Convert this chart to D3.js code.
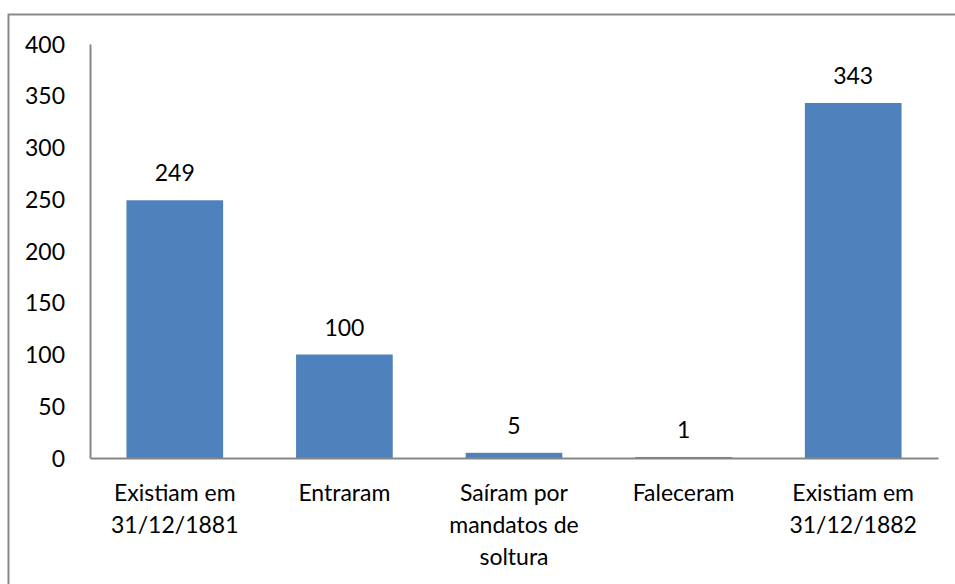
<!DOCTYPE html>
<html>
<head>
  <meta charset="utf-8">
  <style>
    body { margin: 0; background: #fff; }
    text { font-family: Lato, "Open Sans", sans-serif; fill: #000; }
  </style>
  <title>Presos</title>
</head>
<body>
  <script src="https://cdn.jsdelivr.net/npm/d3@7"></script>
  <script>
    // data
    var categories = [
      ["Existiam em", "31/12/1881"],
      ["Entraram"],
      ["Saíram por", "mandatos de", "soltura"],
      ["Faleceram"],
      ["Existiam em", "31/12/1882"]
    ];
    var values = [249, 100, 5, 1, 343];
    var yTicks = [0, 50, 100, 150, 200, 250, 300, 350, 400];

    // dimensions
    var width = 955;
    var height = 584;
    var plotLeft = 90, plotRight = 938, plotTop = 44, plotBottom = 458;
    var fontSize = 23;

    var svg = d3.select("body").append("svg")
      .attr("width", width)
      .attr("height", height);

    // outer chart border
    svg.append("rect")
      .attr("x", 8.5)
      .attr("y", 14.5)
      .attr("width", 960)
      .attr("height", 600)
      .attr("fill", "none")
      .attr("stroke", "#898989")
      .attr("stroke-width", 2);

    var idx = d3.range(values.length);

    var x = d3.scaleBand()
      .domain(idx)
      .range([plotLeft, plotRight])
      .paddingInner(0.43)
      .paddingOuter(0.215);

    var y = d3.scaleLinear()
      .domain([0, 400])
      .range([plotBottom, plotTop]);

    // bars
    svg.selectAll("rect.bar").data(values).enter().append("rect")
      .attr("class", "bar")
      .attr("x", function(d, i) { return x(i); })
      .attr("width", x.bandwidth())
      .attr("y", function(d) { return y(d); })
      .attr("height", function(d) { return y(0) - y(d); })
      .attr("fill", "#4F81BD");

    // value labels
    svg.selectAll("text.val").data(values).enter().append("text")
      .attr("class", "val")
      .attr("text-anchor", "middle")
      .attr("x", function(d, i) { return x(i) + x.bandwidth() / 2; })
      .attr("y", function(d) { return y(d) - 19; })
      .style("font-size", fontSize + "px")
      .text(function(d) { return d; });

    // y axis (line only, labels on the left)
    var yAxis = d3.axisLeft(y).tickValues(yTicks).tickSize(0).tickPadding(25);
    var gy = svg.append("g")
      .attr("transform", "translate(" + plotLeft + ",0)")
      .call(yAxis);
    gy.attr("font-family", null).attr("font-size", null);
    gy.select(".domain").attr("stroke", "#868686").attr("stroke-width", 2);
    gy.selectAll("text")
      .style("font-size", fontSize + "px")
      .attr("dy", "0.35em");

    // x axis
    var xAxis = d3.axisBottom(x).tickSize(0).tickFormat("");
    var gx = svg.append("g")
      .attr("transform", "translate(0," + plotBottom + ")")
      .call(xAxis);
    gx.select(".domain").attr("stroke", "#868686").attr("stroke-width", 2);

    // category labels, several lines each
    var lab = svg.selectAll("text.cat").data(categories).enter().append("text")
      .attr("class", "cat")
      .attr("text-anchor", "middle")
      .style("font-size", fontSize + "px");
    lab.selectAll("tspan").data(function(d, i) {
        return d.map(function(s) { return { s: s, i: i }; });
      }).enter().append("tspan")
      .attr("x", function(d) { return x(d.i) + x.bandwidth() / 2; })
      .attr("y", function(d, j) { return 501 + j * 32; })
      .text(function(d) { return d.s; });
  </script>
</body>
</html>
